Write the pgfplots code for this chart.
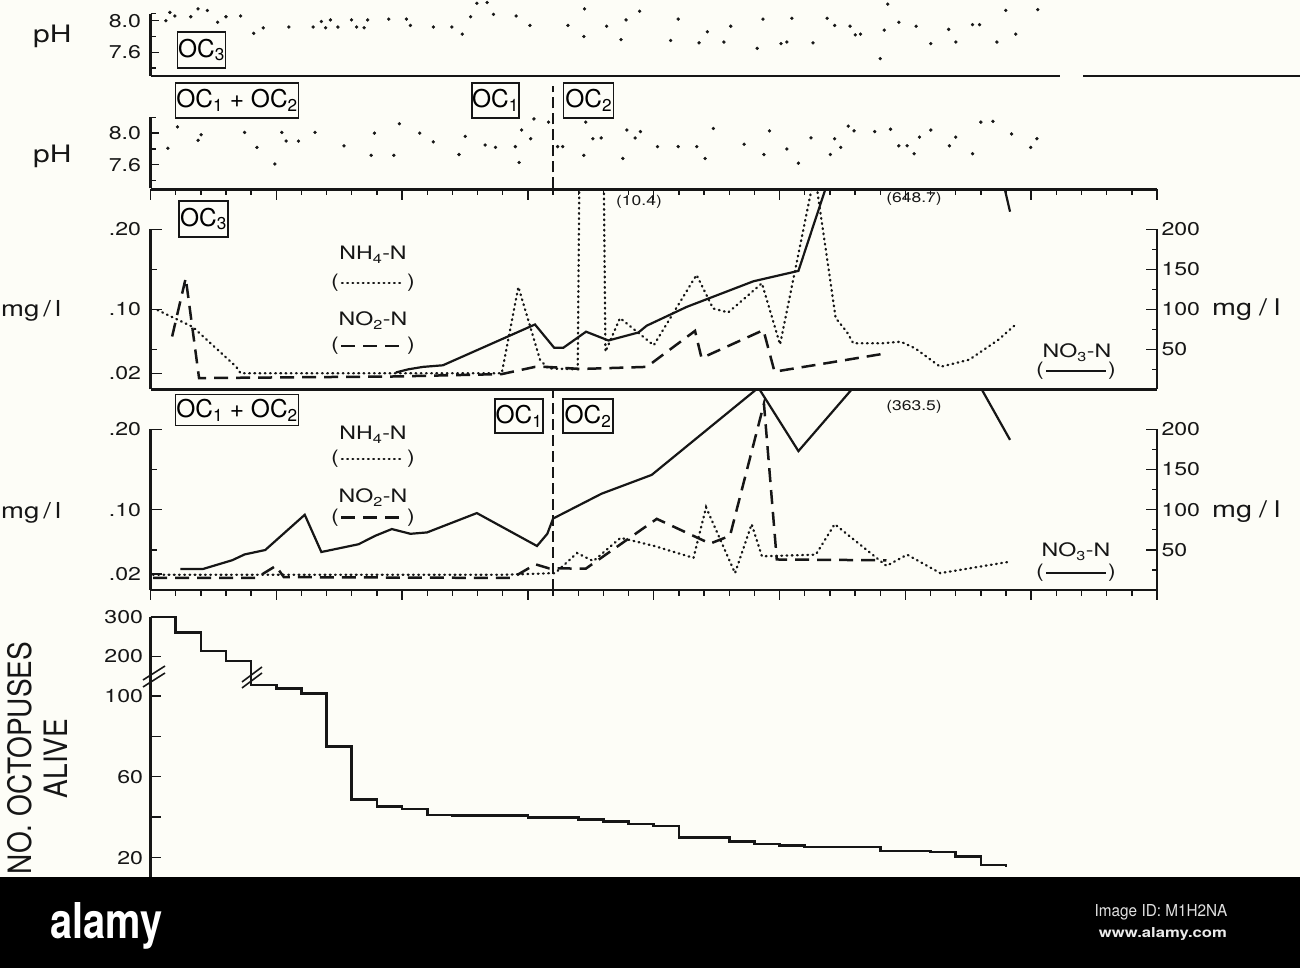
\documentclass[border=0pt]{standalone}
\usepackage{fontspec}
\setmainfont{TeX Gyre Heros}[FakeStretch=1.25]
\newfontfamily\plainfont{TeX Gyre Heros}
\newfontfamily\tickfont{TeX Gyre Heros}[FakeStretch=1.25]
\usepackage{graphicx}
\usepackage{pgfplots}
\pgfplotsset{compat=1.18}

\definecolor{paper}{RGB}{253,253,247}
\definecolor{ink}{RGB}{22,22,22}
\newcommand{\fs}[1]{\fontsize{#1}{#1}\selectfont}

\tikzset{
  spine/.style={ink, line width=2.1pt},
  sep/.style={ink, line width=2.8pt},
  nh4/.style={ink, line width=2.3pt, line cap=round, dash pattern=on 0.8pt off 4.4pt},
  no2/.style={ink, line width=2.5pt, dash pattern=on 14pt off 8pt},
  no3/.style={ink, line width=2.2pt},
  vdash/.style={ink, line width=1.7pt, dash pattern=on 11pt off 5pt},
  box/.style={draw=ink, line width=1.5pt, inner sep=0pt, font=\plainfont\fs{24.5}},
  txt/.style={inner sep=0pt, text=ink},
}

\pgfplotsset{
  panel/.style={
    scale only axis, width=1006.5pt, xmin=0, xmax=40, anchor=south west,
    axis line style={draw=none}, tick align=inside,
    tick style={ink, line width=1.4pt},
    major tick length=11pt, minor tick length=6pt,
    xtick=\empty, ytick pos=left, xtick pos=right,
    clip mode=individual,
    yticklabel style={font=\tickfont\fs{18.5}, text=ink, xshift=-6pt},
    /pgf/number format/assume math mode=true,
  },
  % xshift adds up with the one of panel
  rightax/.style={
    panel, ymin=0, ymax=250, ytick pos=right, yticklabel pos=right,
    ytick={50,100,150,200}, minor ytick={25,75,125,175},
    minor tick length=5pt,
    yticklabel style={xshift=7pt},
  },
  xticks/.style={xtick={0,5,...,40}, minor xtick={0,1,...,40}, xticklabels={}},
}

\begin{document}
\begin{tikzpicture}[x=1pt,y=1pt]
\fill[paper] (0,0) rectangle (1300,968);
\useasboundingbox (0,0) rectangle (1300,968);

% ---------- pH, OC3
\begin{axis}[panel, at={(150.5pt,892pt)}, height=62.4pt, ymin=7.3, ymax=8.09, clip=false,
  ytick={7.6,8.0}, yticklabels={7.6,8.0}, minor ytick={7.4,7.8,8.09},
  major tick length=8pt, minor tick length=5pt]
\addplot[only marks, mark=*, mark size=1.5pt, ink] coordinates {
(0.61,8.00)(0.77,8.105)(0.97,8.06)(1.60,8.05)(1.89,8.15)(2.26,8.13)(2.67,7.98)(3.00,8.05)
(3.58,8.06)(4.10,7.84)(4.48,7.91)(5.50,7.92)(6.46,7.92)(6.79,7.99)(6.96,7.91)(7.15,8.01)
(7.45,7.92)(7.99,8.01)(8.19,7.92)(8.49,7.91)(8.63,8.01)(9.47,8.02)(10.17,8.02)(10.33,7.94)
(11.24,7.92)(11.98,7.92)(12.39,7.83)(12.72,8.05)(12.97,8.22)(13.38,8.23)(13.63,8.08)(14.53,8.06)
(15.08,7.94)(16.59,7.94)(17.25,8.15)(17.22,7.80)(18.13,7.93)(18.70,7.76)(18.90,8.01)(19.44,8.12)
(20.67,7.75)(20.97,8.02)(21.80,7.72)(22.13,7.86)(22.79,7.73)(23.06,7.93)(24.11,7.65)(24.34,8.02)
(25.06,7.71)(25.29,7.73)(25.49,8.03)(26.33,7.72)(26.89,8.03)(27.19,7.94)(27.80,7.93)(28.01,7.82)
(28.22,7.83)(29.00,7.52)(29.16,7.88)(29.30,8.21)(29.74,7.98)(30.43,7.93)(31.01,7.71)(31.72,7.89)
(32.01,7.73)(32.67,7.95)(32.95,7.95)(33.64,7.73)(33.99,8.13)(34.39,7.83)(35.26,8.14)
};
\draw[spine] (axis cs:0,7.3) -- (axis cs:0,8.09);
\end{axis}
\draw[sep] (150.5,892) -- (1060,892);
\draw[sep] (1083,892) -- (1300,892);

% ---------- pH, OC1 + OC2
\begin{axis}[panel, at={(150.5pt,779.5pt)}, height=71.1pt, ymin=7.3, ymax=8.2, clip=false,
  ytick={7.6,8.0}, yticklabels={7.6,8.0}, minor ytick={7.4,7.8,8.2},
  major tick length=8pt, minor tick length=5pt]
\addplot[only marks, mark=*, mark size=1.5pt, ink] coordinates {
(0.69,7.81)(1.07,8.08)(1.89,7.91)(2.01,7.98)(3.74,8.01)(4.23,7.82)(4.94,7.61)(5.22,8.01)
(5.39,7.90)(5.88,7.90)(6.54,8.01)(7.69,7.84)(8.77,7.72)(8.90,8.00)(9.67,7.72)(9.89,8.12)
(10.70,8.00)(11.24,7.89)(12.26,7.73)(12.51,7.96)(13.30,7.85)(13.71,7.82)(14.50,7.83)(14.65,7.63)
(14.75,8.04)(15.11,7.93)(15.24,8.18)(15.82,8.14)(16.18,7.83)(16.38,7.83)(17.22,7.72)(17.30,8.14)
(17.58,7.93)(17.91,7.94)(18.77,7.68)(18.93,8.04)(19.26,7.94)(19.47,8.02)(20.15,7.83)(20.97,7.83)
(21.71,7.83)(22.04,7.68)(22.37,8.06)(23.59,7.86)(24.38,7.73)(24.60,8.03)(25.29,7.80)(25.75,7.62)
(26.25,7.94)(27.02,7.73)(27.19,7.93)(27.43,7.82)(27.73,8.09)(27.96,8.03)(28.78,8.02)(29.41,8.05)
(29.74,7.84)(30.07,7.84)(30.35,7.74)(30.56,7.95)(31.01,8.04)(31.75,7.84)(32.00,7.95)(32.67,7.74)
(33.00,8.14)(33.48,8.15)(34.22,7.99)(34.98,7.82)(35.23,7.93)
};
\draw[spine] (axis cs:0,7.3) -- (axis cs:0,8.2);
\draw[vdash] (axis cs:16,7.3) -- (axis cs:16,8.6);
\end{axis}

% ---------- mg/l, OC3  (off-scale values held at 2 so the spike stays vertical)
\begin{axis}[panel, xticks, at={(150.5pt,578.7pt)}, height=200pt, ymin=0, ymax=0.25,
  restrict y to domain*=-1:2,
  ytick={0.02,0.10,0.20}, yticklabels={.02,.10,.20}, minor ytick={0.05,0.15}]
\addplot[nh4] coordinates {
(0.28,0.099)(1.68,0.078)(3.41,0.028)(3.58,0.020)(13.96,0.020)(14.62,0.128)(15.48,0.037)
(15.8,0.026)(16.98,0.025)(17.5,10.4)(18.08,0.047)(18.66,0.089)(19.33,0.072)(20.0,0.055)
(21.7,0.143)(22.36,0.101)(22.96,0.096)(24.3,0.1325)(25.02,0.056)(26.4,0.27)(27.23,0.089)
(27.67,0.072)(27.93,0.0575)(29.08,0.0575)(29.82,0.0595)(30.40,0.051)(31.39,0.028)(32.54,0.037)
(33.70,0.062)(34.44,0.0825)
};
\addplot[no2] coordinates {
(0.86,0.066)(1.40,0.139)(1.93,0.014)(9.67,0.016)(13.96,0.019)(15.28,0.028)(15.74,0.028)
(17.12,0.0254)(19.72,0.028)(21.64,0.073)(21.9,0.039)(24.36,0.074)(24.8,0.022)(29.25,0.045)
};
\draw[sep] (axis cs:0,0.25) -- (axis cs:40,0.25);
\draw[sep] (axis cs:0,0) -- (axis cs:40,0);
\draw[spine] (axis cs:0,0) -- (axis cs:0,0.2);
\draw[spine] (axis cs:40,0) -- (axis cs:40,0.2);
\end{axis}
\begin{axis}[rightax, at={(150.5pt,578.7pt)}, height=200pt]
\addplot[no3] coordinates {
(9.75,21)(10.25,25)(10.83,28)(11.62,30)(15.28,81)(16.04,52)(16.41,52)(17.31,72)(18.2,61)
(19.39,71)(19.72,79.5)(21.31,103)(23.96,135)(25.75,148)(31,648.7)(34.16,222)
};
\end{axis}

% ---------- mg/l, OC1 + OC2
\begin{axis}[panel, at={(150.5pt,378pt)}, height=200.7pt, ymin=0, ymax=0.25,
  ytick={0.02,0.10,0.20}, yticklabels={.02,.10,.20}, minor ytick={0.05,0.15}]
\addplot[nh4] coordinates {
(0.1,0.019)(14.04,0.019)(16.08,0.021)(16.95,0.046)(17.6,0.036)(18.68,0.065)(20.0,0.055)
(21.58,0.040)(22.08,0.103)(23.23,0.021)(23.89,0.082)(24.3,0.042)(26.44,0.044)(27.19,0.082)
(29.25,0.030)(30.07,0.044)(31.39,0.021)(34.1,0.035)
};
\addplot[no2] coordinates {
(0.1,0.015)(4.2,0.015)(4.98,0.03)(5.3,0.016)(14.37,0.015)(15.3,0.032)(15.83,0.027)
(17.3,0.0266)(20.12,0.0886)(22.24,0.0578)(23.03,0.0675)(24.38,0.232)(24.89,0.038)(29.25,0.037)
};
\draw[sep] (axis cs:0,0) -- (axis cs:40,0);
\draw[spine] (axis cs:0,0) -- (axis cs:0,0.2);
\draw[spine] (axis cs:40,0) -- (axis cs:40,0.2);
\draw[vdash] (axis cs:16,0) -- (axis cs:16,0.25);
\end{axis}
\begin{axis}[rightax, at={(150.5pt,378pt)}, height=200.7pt]
\addplot[no3] coordinates {
(1.19,26.2)(2.09,26.2)(3.25,37.1)(3.74,44.3)(4.56,49.8)(6.13,93.7)(6.79,47.3)(8.27,57)
(8.93,67.5)(9.59,75.9)(10.33,70)(10.99,71.7)(12.97,95.8)(15.36,54.8)(15.77,70)(16.0,89)
(17.93,120)(19.92,143.4)(24.16,252)(25.75,173)(31,363.5)(34.16,187)
};
\end{axis}

% ---------- octopuses alive (broken scale above 150)
\begin{axis}[panel, xticks, at={(150.5pt,70pt)}, height=308pt, ymin=0, ymax=369, clip=false,
  y coord trafo/.code={\pgfmathparse{ifthenelse(#1>=150, 100+0.195*(#1-100), #1)}},
  ytick={20,40,60,80,100,200,300}, yticklabels={20,,60,,100,200,300},
  major tick length=10pt, yticklabel style={xshift=2pt}]
\addplot[const plot, ink, line width=2.6pt] coordinates {
(0,300)(1,261)(2,214)(3,189)(4,105.4)(5,103.6)(6,101.3)(7,75)(8,48.9)(9,45.2)(10,44.1)
(11,41.1)(12,40.7)(15,39.8)(17,39.0)(18,37.8)(19,36.7)(20,35.7)(21,29.9)(23,27.9)(24,26.8)
(25,25.9)(26,25.3)(29,23.3)(31,22.7)(32,20.5)(33,16.4)(34,16.4)(34,15.4)
};
\draw[sep] (axis cs:0,369) -- (axis cs:40,369);
\draw[spine] (axis cs:0,0) -- (axis cs:0,300);
\end{axis}
% break marks
\draw[ink, line width=1.6pt] (143,288) -- (165,302) (143,281) -- (165,295);
\draw[ink, line width=1.6pt] (242,286) -- (262,301) (242,280) -- (262,295);

% ---------- texts
\node[txt, anchor=base west, font=\fs{24}] at (33,925.3) {pH};
\node[txt, anchor=base west, font=\fs{24}] at (33,805.3) {pH};
\node[txt, anchor=base west, font=\fs{22}] at (1,651) {mg\hspace{4pt}/\hspace{4pt}l};
\node[txt, anchor=base west, font=\fs{22}] at (1,449) {mg\hspace{4pt}/\hspace{4pt}l};
\node[txt, anchor=base west, font=\fs{23}] at (1212,652) {mg\hspace{7pt}/\hspace{7pt}l};
\node[txt, anchor=base west, font=\fs{23}] at (1212,450) {mg\hspace{7pt}/\hspace{7pt}l};

\node[box, minimum width=48pt, minimum height=36pt] at (201.5,918) {OC\textsubscript{3}};
\node[box, minimum width=123pt, minimum height=35pt] at (237,867.5) {OC\textsubscript{1} + OC\textsubscript{2}};
\node[box, minimum width=46pt, minimum height=35pt] at (495.4,867.5) {OC\textsubscript{1}};
\node[box, minimum width=50pt, minimum height=35pt] at (588.7,867.5) {OC\textsubscript{2}};
\node[box, minimum width=49pt, minimum height=36pt] at (203.5,749) {OC\textsubscript{3}};
\node[box, minimum width=123pt, minimum height=31pt] at (237,558) {OC\textsubscript{1} + OC\textsubscript{2}};
\node[box, minimum width=48pt, minimum height=34pt] at (519,552) {OC\textsubscript{1}};
\node[box, minimum width=50pt, minimum height=34pt] at (588,552) {OC\textsubscript{2}};

\begin{scope}[every node/.style={txt, font=\fs{18.5}}]
\node[anchor=base] at (373,708) {NH\textsubscript{4}-N};
\node at (335,685) {(}; \node at (411,685) {)};
\draw[nh4] (342,685) -- (404,685);
\node[anchor=base] at (373,642) {NO\textsubscript{2}-N};
\node at (335,622) {(}; \node at (411,622) {)};
\draw[no2] (341,622) -- (405,622);
\node[anchor=base] at (1077,610) {NO\textsubscript{3}-N};
\node at (1040,597) {(}; \node at (1112,597) {)};
\draw[no3] (1046,597) -- (1106,597);

\node[anchor=base] at (373,528) {NH\textsubscript{4}-N};
\node at (335,509) {(}; \node at (411,509) {)};
\draw[nh4] (342,509) -- (404,509);
\node[anchor=base] at (373,465) {NO\textsubscript{2}-N};
\node at (335,450.5) {(}; \node at (411,450.5) {)};
\draw[no2] (341,450.5) -- (405,450.5);
\node[anchor=base] at (1076,411) {NO\textsubscript{3}-N};
\node at (1040,395) {(}; \node at (1112,395) {)};
\draw[no3] (1046,395) -- (1106,395);
\end{scope}

\node[txt, font=\fs{14}] at (639,766) {(10.4)};
\node[txt, font=\fs{14}] at (914,769) {(648.7)};
\node[txt, font=\fs{14}] at (914,561) {(363.5)};

\node[txt, rotate=90, font=\plainfont\fs{28}] at (19.7,210) {\scalebox{1}[1.15]{NO. OCTOPUSES}};
\node[txt, rotate=90, font=\plainfont\fs{28}] at (56,209.5) {\scalebox{1}[1.15]{ALIVE}};

% ---------- stock-photo banner
\fill[black] (0,0) rectangle (1300,91);
\node[txt, anchor=base west, text=white] at (50,30) {\resizebox{112pt}{36pt}{\plainfont\bfseries alamy}};
\node[txt, anchor=base west, text=white!88!black] at (1094.5,51) {\resizebox{132.5pt}{12pt}{\plainfont Image ID: M1H2NA}};
\node[txt, anchor=base west, text=white!92!black] at (1098.7,30) {\resizebox{128pt}{10pt}{\plainfont\bfseries www.alamy.com}};
\end{tikzpicture}
\end{document}
